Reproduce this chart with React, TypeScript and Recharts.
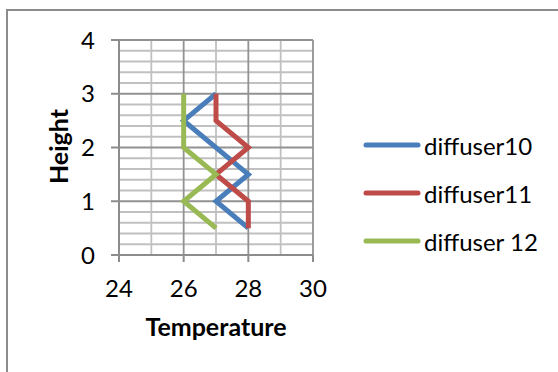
import React from 'react';
import {
  ScatterChart,
  Scatter,
  XAxis,
  YAxis,
  CartesianGrid,
  Legend,
} from 'recharts';

// Temperature (x) against height (y) for each diffuser, points joined in order
const diffuser10 = [
  { t: 27, h: 3 },
  { t: 26, h: 2.5 },
  { t: 28, h: 1.5 },
  { t: 27, h: 1 },
  { t: 28, h: 0.5 },
];
const diffuser11 = [
  { t: 27, h: 3 },
  { t: 27, h: 2.5 },
  { t: 28, h: 2 },
  { t: 27, h: 1.5 },
  { t: 28, h: 1 },
  { t: 28, h: 0.5 },
];
const diffuser12 = [
  { t: 26, h: 3 },
  { t: 26, h: 2 },
  { t: 27, h: 1.5 },
  { t: 26, h: 1 },
  { t: 27, h: 0.5 },
];

const xTicks = [24, 26, 28, 30];
const yTicks = [0, 1, 2, 3, 4];
const xMinorGrid = [25, 27, 29];
const yMinorGrid = [
  0.2, 0.4, 0.6, 0.8, 1.2, 1.4, 1.6, 1.8, 2.2, 2.4, 2.6, 2.8, 3.2, 3.4, 3.6, 3.8,
];
const xMajorGrid = [26, 28, 30];
const yMajorGrid = [1, 2, 3, 4];

const FONT = 'Lato, "Open Sans", sans-serif';
const AXIS_GRAY = '#8c8c8c';

const series = [
  { name: 'diffuser10', data: diffuser10, color: '#4A7EBB' },
  { name: 'diffuser11', data: diffuser11, color: '#BE4B48' },
  { name: 'diffuser 12', data: diffuser12, color: '#98B954' },
];
const seriesOrder = series.map((s) => s.name);

const noDot = () => null;

const LegendContent = (props: any) => {
  const items = [...(props.payload || [])].sort(
    (a: any, b: any) => seriesOrder.indexOf(a.value) - seriesOrder.indexOf(b.value)
  );
  return (
    <div style={{ fontFamily: FONT, fontSize: 24, color: '#000' }}>
      {items.map((it: any) => (
        <div
          key={it.value}
          style={{ display: 'flex', alignItems: 'center', height: 48 }}
        >
          <svg width={58} height={8} style={{ marginRight: 3 }}>
            <line
              x1={3}
              y1={4}
              x2={55}
              y2={4}
              stroke={it.color}
              strokeWidth={5}
              strokeLinecap="round"
            />
          </svg>
          <span>{it.value}</span>
        </div>
      ))}
    </div>
  );
};

const YTitle = (props: any) => {
  const vb = props.viewBox || {};
  const cx = 58;
  const cy = vb.y + vb.height / 2 - 1;
  return (
    <text
      x={cx}
      y={cy}
      transform={`rotate(-90 ${cx} ${cy})`}
      textAnchor="middle"
      dominantBaseline="central"
      fontFamily={FONT}
      fontWeight="bold"
      fontSize={25}
      fill="#000"
    >
      Height
    </text>
  );
};

const XTitle = (props: any) => {
  const vb = props.viewBox || {};
  const cx = vb.x + vb.width / 2;
  return (
    <text
      x={cx}
      y={336}
      textAnchor="middle"
      fontFamily={FONT}
      fontWeight="bold"
      fontSize={25}
      fill="#000"
    >
      Temperature
    </text>
  );
};

export default function App() {
  return (
    <div
      style={{
        position: 'absolute',
        left: 0,
        top: 0,
        width: 558,
        height: 372,
        overflow: 'hidden',
        background: '#fff',
      }}
    >
      <div
        style={{
          position: 'absolute',
          left: 6,
          top: 9,
          width: 600,
          height: 400,
          border: `2px solid ${AXIS_GRAY}`,
        }}
      />
      <div style={{ position: 'absolute', left: 0, top: 0 }}>
        <ScatterChart
          width={558}
          height={372}
          margin={{ top: 40, left: 59, right: 55, bottom: 37 }}
        >
          <CartesianGrid
            stroke="#c0c0c0"
            strokeWidth={1.8}
            horizontalValues={yMinorGrid}
            verticalValues={xMinorGrid}
          />
          <CartesianGrid
            stroke="#929292"
            strokeWidth={1.8}
            horizontalValues={yMajorGrid}
            verticalValues={xMajorGrid}
          />
          <XAxis
            type="number"
            dataKey="t"
            domain={[24, 30]}
            ticks={xTicks}
            interval={0}
            allowDataOverflow
            height={80}
            tickSize={7}
            tickMargin={18}
            axisLine={{ stroke: AXIS_GRAY, strokeWidth: 2 }}
            tickLine={{ stroke: AXIS_GRAY, strokeWidth: 2 }}
            tick={{ fontFamily: FONT, fontSize: 24, fill: '#000' }}
            label={<XTitle />}
          />
          <YAxis
            type="number"
            dataKey="h"
            domain={[0, 4]}
            ticks={yTicks}
            interval={0}
            allowDataOverflow
            width={60}
            tickSize={8}
            tickMargin={16}
            axisLine={{ stroke: AXIS_GRAY, strokeWidth: 2 }}
            tickLine={{ stroke: AXIS_GRAY, strokeWidth: 2 }}
            tick={{ fontFamily: FONT, fontSize: 24, fill: '#000' }}
            label={<YTitle />}
          />
          <Legend
            layout="vertical"
            align="right"
            verticalAlign="middle"
            content={<LegendContent />}
            wrapperStyle={{ left: 363, top: 121, width: 190, right: 'auto' }}
          />
          {series.map((s) => (
            <Scatter
              key={s.name}
              name={s.name}
              data={s.data}
              fill={s.color}
              line={{ stroke: s.color, strokeWidth: 5 }}
              lineType="joint"
              shape={noDot}
              isAnimationActive={false}
            />
          ))}
        </ScatterChart>
      </div>
    </div>
  );
}
